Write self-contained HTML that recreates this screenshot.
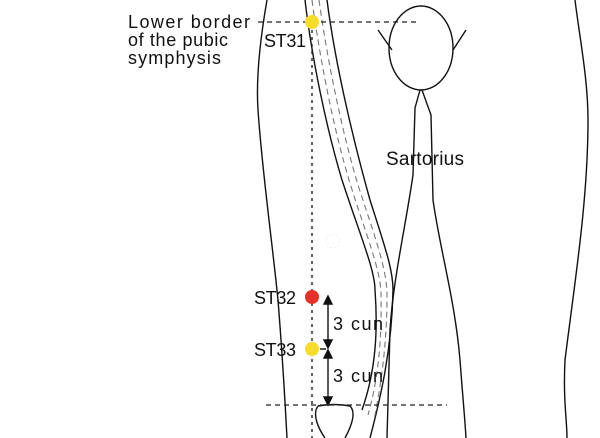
<!DOCTYPE html>
<html><head><style>
html,body{margin:0;padding:0;background:#fff;}
svg{display:block;}
text{font-family:"Liberation Sans",sans-serif;font-size:18px;fill:#111;}
</style></head><body>
<svg width="600" height="438" viewBox="0 0 600 438" xmlns="http://www.w3.org/2000/svg">
<g fill="none" stroke="#111" stroke-width="1.4">
<path d="M267,0 C260,40 256,80 258,110 C262,170 272,240 278,300 C282,350 285,400 287,438"/>
<path d="M575,0 C580,40 588,80 588,120 C588,200 575,280 565,360 C563,400 567,420 567,438"/>
<path d="M305,0 C312,60 327,130 342,180 C360,235 375,270 375,290 C378,330 376,370 362,410"/>
<path d="M327,0 C336,70 356,150 370,200 C386,250 393,270 393,290 C392,350 380,400 370,438"/>
<path d="M413,175 C405,230 393,280 390,330 C389,370 388,400 387,438"/>
<ellipse cx="421" cy="48" rx="32" ry="42"/>
<path d="M378,30 L392,50"/>
<path d="M466,30 L453,50"/>
<path d="M420,90 L415,108 L413,175"/>
<path d="M422,90 L431,115 L433,200 C440,250 455,300 460,360 C463,400 465,420 466,438"/>
<path d="M318,406 Q334,403 350,406 C356,412 352,425 345,438 M318,406 C312,414 318,428 325,438"/>
</g>
<g fill="none" stroke="#777" stroke-width="1.1" stroke-dasharray="6,4">
<path d="M312,0 C320,60 334,130 349,180 C366,235 381,270 381,295 C382,340 378,380 368,415"/>
<path d="M319,0 C328,65 343,135 358,185 C376,240 387,270 387,295 C387,340 382,380 374,420"/>
</g>
<g fill="none" stroke="#222" stroke-width="1.2" stroke-dasharray="5,4">
<path d="M258,22 L420,22"/>
<path d="M266,405 L447,405"/>
</g>
<path d="M312,30 L312,438" stroke="#222" stroke-width="1.4" stroke-dasharray="3,4" fill="none"/>
<circle cx="333" cy="241" r="7" fill="none" stroke="#eee" stroke-width="1" stroke-dasharray="2,2"/>
<circle cx="312" cy="22" r="7" fill="#f7dc2a"/>
<circle cx="312" cy="297" r="7" fill="#e5332a"/>
<circle cx="312" cy="349" r="7" fill="#f7dc2a"/>
<g stroke="#111" stroke-width="1.4" fill="#111">
<path d="M328,300 L328,346" fill="none"/>
<path d="M328,296 L324,304 L332,304Z"/>
<path d="M328,348 L324,340 L332,340Z"/>
<path d="M328,354 L328,402" fill="none"/>
<path d="M328,350 L324,358 L332,358Z"/>
<path d="M328,405 L324,397 L332,397Z"/>
<path d="M320,349 L326,349" fill="none"/>
</g>
<g style="font-size:19px">
<text x="128" y="28" textLength="122">Lower border</text>
<text x="128" y="46" textLength="100">of the pubic</text>
<text x="128" y="64" textLength="93">symphysis</text>
</g>
<text x="264" y="47" textLength="42">ST31</text>
<text x="386" y="165" textLength="78" style="font-size:19px">Sartorius</text>
<text x="254" y="304" textLength="42">ST32</text>
<text x="254" y="356" textLength="42">ST33</text>
<text x="333" y="330" textLength="50">3 cun</text>
<text x="333" y="382" textLength="50">3 cun</text>
</svg>
</body></html>
